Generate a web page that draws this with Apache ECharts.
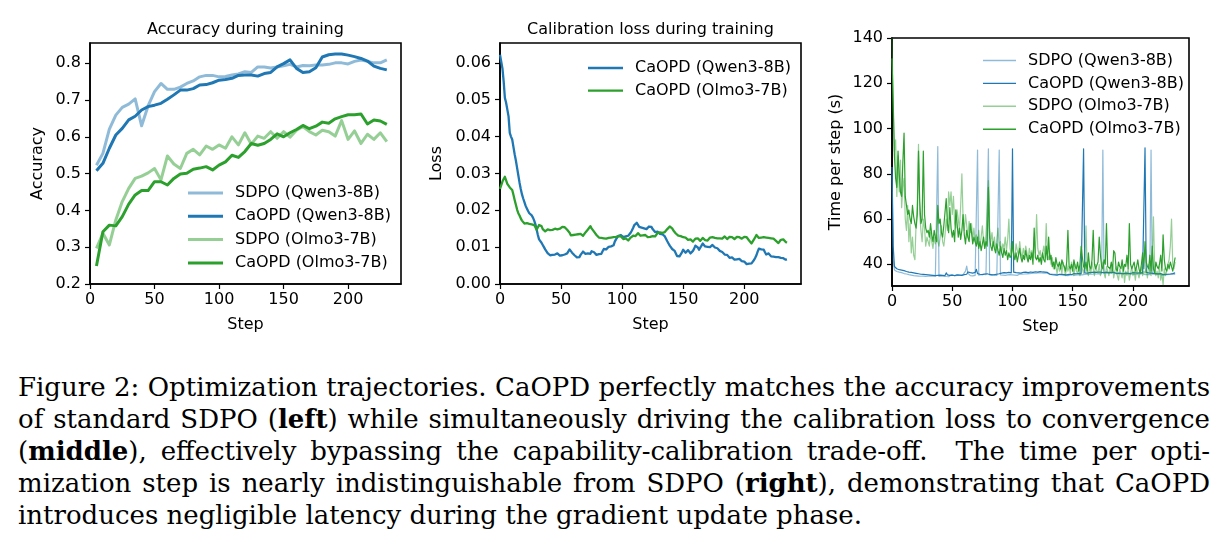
<!DOCTYPE html>
<html>
<head>
<meta charset="utf-8">
<script src="https://cdn.jsdelivr.net/npm/echarts@6/dist/echarts.min.js"></script>
<style>
html,body{margin:0;padding:0;background:#fff;}
#chart{position:absolute;left:0;top:0;width:1224px;height:350px;}
#cap{position:absolute;left:18px;top:371px;width:1192px;font-family:'DejaVu Serif',serif;font-size:26px;color:#000;line-height:32px;}
#cap div{white-space:nowrap;height:32px;}
#cap .j{text-align:justify;text-align-last:justify;}
</style>
</head>
<body>
<div id="chart"></div>
<div id="cap">
<div class="j">Figure 2: Optimization trajectories. CaOPD perfectly matches the accuracy improvements</div>
<div class="j">of standard SDPO (<b>left</b>) while simultaneously driving the calibration loss to convergence</div>
<div class="j">(<b>middle</b>), effectively bypassing the capability-calibration trade-off.&nbsp; The time per opti-</div>
<div class="j">mization step is nearly indistinguishable from SDPO (<b>right</b>), demonstrating that CaOPD</div>
<div>introduces negligible latency during the gradient update phase.</div>
</div>
<script>
// ---------- DATA ----------
const seriesNames = ['SDPO (Qwen3-8B)', 'CaOPD (Qwen3-8B)', 'SDPO (Olmo3-7B)', 'CaOPD (Olmo3-7B)'];
const stepTicks = [0, 50, 100, 150, 200];
const accTicks = [0.2, 0.3, 0.4, 0.5, 0.6, 0.7, 0.8];
const lossTicks = [0, 0.01, 0.02, 0.03, 0.04, 0.05, 0.06];
const timeTicks = [40, 60, 80, 100, 120, 140];

// Accuracy (evaluated every 5 steps)
const accSteps = [5,10,15,20,25,30,35,40,45,50,55,60,65,70,75,80,85,90,95,100,105,110,115,120,125,130,135,140,145,150,155,160,165,170,175,180,185,190,195,200,205,210,215,220,225,230];
const accSdpoQwen = [0.523,0.555,0.621,0.659,0.680,0.689,0.703,0.630,0.684,0.723,0.745,0.729,0.729,0.735,0.745,0.752,0.763,0.767,0.767,0.763,0.764,0.768,0.771,0.777,0.775,0.790,0.790,0.787,0.790,0.793,0.797,0.790,0.794,0.793,0.795,0.795,0.797,0.801,0.801,0.798,0.805,0.809,0.805,0.801,0.801,0.809];
const accCaopdQwen = [0.508,0.528,0.569,0.605,0.623,0.646,0.656,0.673,0.682,0.686,0.691,0.702,0.714,0.727,0.727,0.731,0.741,0.742,0.747,0.754,0.756,0.759,0.767,0.768,0.768,0.765,0.772,0.775,0.790,0.799,0.809,0.786,0.775,0.777,0.788,0.817,0.823,0.825,0.825,0.822,0.818,0.813,0.806,0.792,0.786,0.782];
const accSdpoOlmo = [0.297,0.338,0.306,0.374,0.424,0.460,0.487,0.493,0.502,0.514,0.483,0.548,0.526,0.514,0.555,0.566,0.551,0.575,0.566,0.578,0.569,0.600,0.578,0.611,0.580,0.602,0.596,0.614,0.596,0.614,0.599,0.618,0.628,0.614,0.605,0.618,0.614,0.602,0.644,0.593,0.616,0.582,0.607,0.593,0.611,0.587];
const accCaopdOlmo = [0.249,0.342,0.360,0.358,0.383,0.417,0.442,0.454,0.454,0.478,0.478,0.469,0.487,0.499,0.501,0.512,0.515,0.519,0.510,0.523,0.532,0.550,0.544,0.560,0.582,0.577,0.582,0.593,0.608,0.600,0.611,0.620,0.631,0.622,0.629,0.640,0.637,0.649,0.655,0.660,0.660,0.662,0.635,0.646,0.643,0.634];

// Calibration loss, one value per step starting at step 0
const lossCaopdQwen = [
0.0622,0.0620,0.0585,0.0550,0.0505,0.0492,0.0488,0.0455,0.0410,0.0400,
0.0392,0.0372,0.0352,0.0335,0.0315,0.0295,0.0275,0.0258,0.0243,0.0232,
0.0222,0.0212,0.0205,0.0198,0.0192,0.0190,0.0186,0.0180,0.0172,0.0162,
0.0148,0.0133,0.0121,0.0116,0.0112,0.0106,0.0100,0.0094,0.0089,0.0084,
0.0080,0.0078,0.0082,0.0079,0.0076,0.0080,0.0078,0.0083,0.0079,0.0077,
0.0074,0.0078,0.0082,0.0080,0.0076,0.0083,0.0088,0.0094,0.0090,0.0085,
0.0081,0.0078,0.0074,0.0072,0.0076,0.0073,0.0079,0.0083,0.0088,0.0085,
0.0082,0.0079,0.0083,0.0086,0.0082,0.0089,0.0091,0.0086,0.0082,0.0079,
0.0077,0.0081,0.0085,0.0082,0.0089,0.0095,0.0098,0.0094,0.0096,0.0101,
0.0098,0.0102,0.0097,0.0105,0.0115,0.0121,0.0126,0.0131,0.0128,0.0133,
0.0130,0.0127,0.0131,0.0129,0.0133,0.0131,0.0135,0.0139,0.0145,0.0152,
0.0160,0.0163,0.0166,0.0161,0.0155,0.0150,0.0153,0.0158,0.0151,0.0147,
0.0149,0.0153,0.0156,0.0151,0.0155,0.0149,0.0145,0.0141,0.0146,0.0142,
0.0139,0.0136,0.0133,0.0135,0.0131,0.0129,0.0124,0.0116,0.0110,0.0104,
0.0099,0.0095,0.0097,0.0090,0.0083,0.0076,0.0072,0.0075,0.0079,0.0086,
0.0093,0.0090,0.0085,0.0088,0.0092,0.0087,0.0083,0.0086,0.0090,0.0096,
0.0104,0.0108,0.0099,0.0093,0.0098,0.0104,0.0110,0.0106,0.0102,0.0105,
0.0101,0.0104,0.0100,0.0103,0.0106,0.0102,0.0099,0.0101,0.0097,0.0093,
0.0090,0.0092,0.0087,0.0083,0.0080,0.0077,0.0079,0.0074,0.0071,0.0068,
0.0072,0.0069,0.0066,0.0070,0.0067,0.0064,0.0068,0.0065,0.0062,0.0066,
0.0061,0.0058,0.0054,0.0051,0.0055,0.0052,0.0056,0.0060,0.0065,0.0071,
0.0078,0.0088,0.0096,0.0100,0.0094,0.0089,0.0093,0.0086,0.0080,0.0077,
0.0083,0.0079,0.0075,0.0078,0.0074,0.0077,0.0073,0.0070,0.0073,0.0069,
0.0071,0.0068,0.0070,0.0067,0.0066,0.0067];
const lossCaopdOlmo = [
0.0258,0.0262,0.0278,0.0285,0.0291,0.0287,0.0272,0.0276,0.0262,0.0266,
0.0255,0.0242,0.0228,0.0215,0.0202,0.0192,0.0186,0.0178,0.0172,0.0168,
0.0164,0.0168,0.0165,0.0167,0.0163,0.0166,0.0162,0.0164,0.0160,0.0154,
0.0147,0.0152,0.0160,0.0163,0.0157,0.0149,0.0146,0.0143,0.0145,0.0148,
0.0144,0.0146,0.0143,0.0147,0.0145,0.0150,0.0152,0.0148,0.0146,0.0150,
0.0153,0.0155,0.0151,0.0154,0.0150,0.0147,0.0143,0.0139,0.0132,0.0128,
0.0133,0.0137,0.0134,0.0138,0.0135,0.0132,0.0136,0.0133,0.0131,0.0135,
0.0140,0.0144,0.0148,0.0153,0.0157,0.0151,0.0146,0.0142,0.0138,0.0133,
0.0129,0.0126,0.0122,0.0125,0.0121,0.0124,0.0120,0.0123,0.0127,0.0125,
0.0128,0.0126,0.0130,0.0127,0.0131,0.0128,0.0126,0.0130,0.0133,0.0129,
0.0125,0.0122,0.0120,0.0124,0.0121,0.0118,0.0122,0.0126,0.0129,0.0131,
0.0134,0.0130,0.0135,0.0138,0.0134,0.0131,0.0135,0.0132,0.0129,0.0133,
0.0130,0.0127,0.0131,0.0128,0.0126,0.0130,0.0127,0.0129,0.0133,0.0138,
0.0142,0.0140,0.0144,0.0139,0.0137,0.0141,0.0145,0.0149,0.0153,0.0156,
0.0157,0.0151,0.0145,0.0141,0.0137,0.0134,0.0131,0.0133,0.0130,0.0128,
0.0127,0.0124,0.0126,0.0122,0.0120,0.0118,0.0121,0.0117,0.0115,0.0119,
0.0123,0.0127,0.0124,0.0120,0.0117,0.0121,0.0125,0.0122,0.0119,0.0116,
0.0118,0.0122,0.0126,0.0131,0.0127,0.0123,0.0125,0.0128,0.0124,0.0121,
0.0124,0.0127,0.0123,0.0126,0.0129,0.0125,0.0122,0.0126,0.0128,0.0124,
0.0127,0.0125,0.0122,0.0126,0.0128,0.0124,0.0127,0.0125,0.0123,0.0126,
0.0128,0.0125,0.0127,0.0123,0.0118,0.0114,0.0110,0.0115,0.0121,0.0127,
0.0133,0.0128,0.0125,0.0128,0.0126,0.0123,0.0127,0.0124,0.0126,0.0129,
0.0125,0.0127,0.0124,0.0128,0.0123,0.0120,0.0117,0.0114,0.0111,0.0115,
0.0120,0.0124,0.0121,0.0117,0.0114,0.0112];

// Time per step (s), one value per step starting at step 0
const timeSdpoQwen = [
80,42,37.5,37,36.8,36.2,36.5,35.9,36.3,35.7,
35.9,35.3,35.7,35,35.4,34.8,35.2,34.6,35,34.5,
34.9,34.4,34.8,34.2,34.7,34.3,34.8,34.1,34.6,34.3,
34.7,34.2,34.8,34.4,34.9,34.3,34.7,34.5,92,34.6,
34.4,34.9,34.3,34.8,35.2,34.6,35,34.5,34.9,35.3,
34.7,35.1,34.6,35,34.8,35.2,34.7,35.1,34.9,35.4,
35,37,39.2,36.1,35.3,35,35.5,34.9,35.3,35.1,
35.5,90.5,35.2,34.9,35.4,35,35.6,35.1,35.4,35.2,
91,35.3,35,35.4,34.9,35.2,34.8,35.1,34.9,90.5,
35.3,34.9,35.2,34.8,35.1,34.9,35.3,35,35.4,35.1,
35.3,35.6,35.2,35.5,35.1,35.4,35.7,35.3,35.6,35.4,
35.7,35.5,35.8,35.4,35.9,35.6,36,35.7,36.2,35.8,
36.1,35.9,36.3,36,36.2,35.8,36.1,35.9,36.2,36,
35.8,35.5,35.7,35.4,35.6,35.3,35.5,35.2,35.4,35.1,
35.3,35,35.2,35.4,35.1,35.3,35,35.2,35.5,35.1,
35.3,35.6,35.2,35.5,35.3,35.7,35.4,35.6,35.3,35.8,
35.5,35.9,35.6,36,35.7,35.9,35.6,36.1,35.8,36,
35.7,36.1,35.8,36.2,35.9,90.5,36,35.8,36.2,35.9,
36.1,35.8,36.2,35.9,36.3,36,35.8,36.1,35.9,36.2,
35.9,36.1,35.8,36,35.7,36.1,35.8,36,35.6,35.9,
35.7,36,35.6,35.9,35.7,35.5,35.8,35.6,35.9,35.7,
35.4,35.8,35.5,35.7,35.4,90.5,35.6,35.3,35.7,35.4,
35.6,35.3,35.7,35.4,35.2,35.5,35.3,35.6,35.4,35.2,
35.5,35.3,35.6,35.4,35.7,35.5];
const timeCaopdQwen = [
83,48,39,38.5,38,38.2,37.6,38,37.4,37.8,
37.2,37.6,36.8,37.3,36.5,37,36.4,36.9,36.2,36.6,
36,36.5,35.8,36.3,35.6,36.1,35.5,36,35.4,35.9,
35.3,35.8,35.2,35.7,35.1,35.6,35,35.5,35.1,35.6,
35.2,35.8,35.1,35.6,35,36.2,35.3,35.8,35.1,35.6,
35.2,35.7,35,35.5,35.3,36,35.2,35.6,35.1,35.8,
35.4,36.2,35.6,36.6,35.8,36.3,35.5,36.1,35.6,36.4,
37.8,35.9,36.3,35.6,36,35.4,36.2,35.7,36.5,35.8,
36.1,35.5,35.9,35.3,35.8,35.4,36,35.6,35.2,35.8,
35.4,36.1,35.6,36.3,35.7,36.2,35.8,36.4,35.9,36.2,
91,36.5,36,36.3,35.8,36.2,35.7,36.1,35.9,36.4,
36,36.5,35.9,36.3,36.1,36.6,36,36.4,36.2,36.7,
36.1,36.5,36.2,36.8,36.3,36.6,36.1,36.5,36.2,36.4,
36,35.6,35.8,35.4,35.6,35.3,35.5,35.2,35.4,35.6,
35.3,35.5,35.8,35.4,35.6,35.3,35.7,35.5,35.8,35.4,
35.6,35.9,35.5,35.8,35.6,36,35.7,35.9,36.1,91,
36.2,35.8,36.1,35.9,36.3,36,36.4,36.1,36.5,36.2,
36.4,36.1,36.6,36.2,36.4,36,36.3,36.1,36.5,36.2,
36.3,36,36.4,36.1,36.5,36.2,36,36.4,36.1,36.3,
36,36.2,35.9,36.3,36.1,36.4,36,36.2,35.9,36.1,
36.3,36,36.2,35.8,36.1,35.9,36.3,36,36.2,36.5,
91.5,36.4,36,36.2,35.9,36.1,35.8,36,35.7,35.9,
35.6,35.8,35.5,35.9,35.6,35.4,35.7,35.5,35.3,35.6,
35.4,35.7,35.5,35.9,36,36.2];
const timeSdpoOlmo = [
140,108,90,95,70,88,72,86,65,74,
78,60,55,66,50,58,45,52,44,42,
58,66,93,62,55,50,60,56,48,52,
50,48,54,50,47,52,49,53,50,48,
52,57,50,48,53,60,55,72,66,72,
62,70,58,56,64,60,55,66,80,60,
55,62,57,52,59,54,58,51,56,50,
53,49,55,48,52,57,50,47,53,64,
77,56,50,54,48,52,46,51,56,48,
50,45,49,47,52,46,51,60,47,44,
48,45,43,49,46,44,50,45,43,47,
44,48,45,42,47,44,46,43,52,45,
62,47,44,46,42,45,48,43,58,44,
42,45,40,43,38,41,39,36,40,37,
39,36,41,38,35,40,37,39,36,41,
38,35,40,37,36,39,35,41,38,36,
40,57,37,35,39,36,41,38,35,40,
37,36,40,35,38,41,36,34,39,37,
35,38,36,40,34,37,39,35,33,38,
36,34,39,32,37,35,38,33,36,39,
35,37,33,38,36,34,34,39,35,37,
36,38,34,40,37,35,42,61,38,35,
37,34,39,33,36,31,38,35,37,40,
42,48,60,40,38,41];
const timeCaopdOlmo = [
131,112,88,78,74,90,80,72,70,85,
98,70,66,62,64,60,58,66,61,58,
56,62,90,68,58,60,90,62,56,54,
55,52,58,53,50,55,52,50,66,58,
60,54,52,57,63,69,58,54,65,56,
52,55,50,64,58,52,56,51,55,62,
53,49,55,52,50,58,54,49,52,50,
48,52,47,50,46,49,52,47,50,48,
74,52,48,46,50,47,45,49,46,44,
48,45,43,47,44,46,42,45,43,44,
50,44,42,45,41,44,47,43,41,44,
42,46,43,41,44,42,45,40,56,43,
42,44,41,43,40,45,42,41,48,42,
52,42,44,39,41,38,43,40,39,41,
38,42,40,39,37,41,55,39,38,40,
37,42,39,38,41,37,40,48,43,39,
38,41,37,45,39,38,42,55,40,38,
38,41,52,44,39,38,42,40,58,39,
39,38,41,37,46,45,38,37,41,39,
38,42,37,40,39,44,38,58,40,38,
38,41,37,39,42,38,36,40,45,38,
50,41,39,38,44,37,48,38,36,41,
39,38,40,44,37,53,42,38,37,40,
38,41,39,37,40,43];

// ---------- CHART ----------
const FONT = 'DejaVu Sans';
const BLUE = '#1f77b4', GREEN = '#2ca02c';
const LBLUE = '#8fbbd9', LGREEN = '#95cf95';

function pairsFromSteps(steps, vals) { return vals.map((v, i) => [steps[i], v]); }
function pairsFromIndex(vals) { return vals.map((v, i) => [i, v]); }

const grids = [
  {left: 90, top: 43, width: 311, height: 241},
  {left: 500, top: 43, width: 301, height: 241},
  {left: 892, top: 38, width: 297, height: 248}
].map(g => Object.assign({show: true, borderColor: '#000', borderWidth: 1.6, backgroundColor: 'transparent'}, g));

function xAx(i, max) {
  return {
    type: 'value', gridIndex: i, min: 0, max: max,
    name: 'Step', nameLocation: 'middle', nameGap: 33,
    nameTextStyle: {fontFamily: FONT, fontSize: 16, color: '#000'},
    axisLine: {show: true, onZero: false, lineStyle: {color: '#000', width: 1.6}},
    axisTick: {show: true, length: 5, customValues: stepTicks, lineStyle: {color: '#000', width: 1.2}},
    axisLabel: {customValues: stepTicks, fontFamily: FONT, fontSize: 16, color: '#000', margin: 8},
    splitLine: {show: false}
  };
}
function yAx(i, min, max, ticks, name, gap, fmt) {
  return {
    type: 'value', gridIndex: i, min: min, max: max,
    name: name, nameLocation: 'middle', nameGap: gap,
    nameTextStyle: {fontFamily: FONT, fontSize: 16, color: '#000'},
    axisLine: {show: true, onZero: false, lineStyle: {color: '#000', width: 1.6}},
    axisTick: {show: true, length: 5, customValues: ticks, lineStyle: {color: '#000', width: 1.2}},
    axisLabel: {customValues: ticks, fontFamily: FONT, fontSize: 16, color: '#000', margin: 9, formatter: fmt},
    splitLine: {show: false}
  };
}

function lineSeries(name, gi, data, color, width, opacity) {
  return {
    type: 'line', name: name, xAxisIndex: gi, yAxisIndex: gi, data: data,
    showSymbol: false, symbol: 'none', animation: false, silent: true,
    lineStyle: {color: color, width: width, opacity: opacity, join: 'round'},
    itemStyle: {color: color}
  };
}

function legendFor(left, top, gap, w, h, items) {
  return {
    orient: 'vertical', left: left, top: top, itemWidth: w, itemHeight: h, itemGap: gap,
    icon: 'rect', selectedMode: false,
    textStyle: {fontFamily: FONT, fontSize: 16, color: '#000', lineHeight: 20, padding: [0, 0, 0, 7]},
    data: items.map(it => ({name: it[0], icon: 'rect', itemStyle: {color: it[1], borderWidth: 0}}))
  };
}

const option = {
  animation: false,
  backgroundColor: '#fff',
  grid: grids,
  xAxis: [xAx(0, 241), xAx(1, 246.5), xAx(2, 246.5)],
  yAxis: [
    yAx(0, 0.2, 0.855, accTicks, 'Accuracy', 44, v => v.toFixed(1)),
    yAx(1, 0, 0.0654, lossTicks, 'Loss', 55, v => v.toFixed(2)),
    yAx(2, 30.4, 140, timeTicks, 'Time per step (s)', 48, v => String(Math.round(v)))
  ],
  legend: [
    legendFor(183, 178, 3.3, 35, 3, [[seriesNames[0], LBLUE], [seriesNames[1], BLUE], [seriesNames[2], LGREEN], [seriesNames[3], GREEN]]),
    legendFor(583, 53, 2.6, 35, 2.4, [[seriesNames[1], BLUE], [seriesNames[3], GREEN]]),
    legendFor(978, 45.5, 2.9, 33, 1.4, [[seriesNames[0], LBLUE], [seriesNames[1], BLUE], [seriesNames[2], LGREEN], [seriesNames[3], GREEN]])
  ],
  graphic: [
    {type: 'text', x: 245.5, y: 29.5, style: {text: 'Accuracy during training', font: '16px "DejaVu Sans"', fill: '#000', textAlign: 'center', textVerticalAlign: 'middle'}},
    {type: 'text', x: 650.5, y: 29.5, style: {text: 'Calibration loss during training', font: '16px "DejaVu Sans"', fill: '#000', textAlign: 'center', textVerticalAlign: 'middle'}}
  ],
  series: [
    lineSeries(seriesNames[0], 0, pairsFromSteps(accSteps, accSdpoQwen), BLUE, 3, 0.5),
    lineSeries(seriesNames[1], 0, pairsFromSteps(accSteps, accCaopdQwen), BLUE, 3, 1),
    lineSeries(seriesNames[2], 0, pairsFromSteps(accSteps, accSdpoOlmo), GREEN, 3, 0.5),
    lineSeries(seriesNames[3], 0, pairsFromSteps(accSteps, accCaopdOlmo), GREEN, 3, 1),
    lineSeries(seriesNames[1], 1, pairsFromIndex(lossCaopdQwen), BLUE, 2.3, 1),
    lineSeries(seriesNames[3], 1, pairsFromIndex(lossCaopdOlmo), GREEN, 2.3, 1),
    lineSeries(seriesNames[0], 2, pairsFromIndex(timeSdpoQwen), BLUE, 1.2, 0.5),
    lineSeries(seriesNames[1], 2, pairsFromIndex(timeCaopdQwen), BLUE, 1.2, 1),
    lineSeries(seriesNames[2], 2, pairsFromIndex(timeSdpoOlmo), GREEN, 1.2, 0.5),
    lineSeries(seriesNames[3], 2, pairsFromIndex(timeCaopdOlmo), GREEN, 1.2, 1)
  ]
};

const chart = echarts.init(document.getElementById('chart'), null, {renderer: 'canvas'});
chart.setOption(option);
</script>
</body>
</html>
